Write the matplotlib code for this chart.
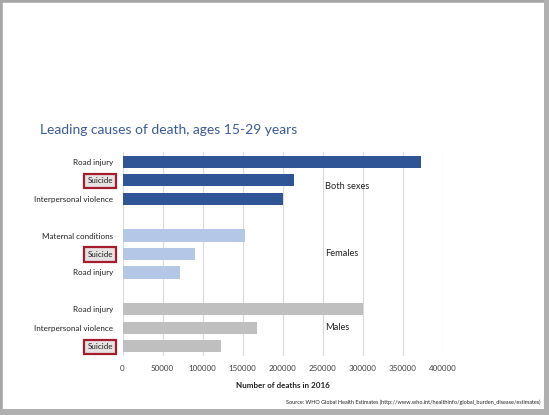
import matplotlib
matplotlib.use("Agg")
import matplotlib.pyplot as plt
from matplotlib.patches import Rectangle

plt.rcParams['font.family'] = ['Lato', 'DejaVu Sans']

# Data
groups = ["Both sexes", "Females", "Males"]
both_causes = ["Road injury", "Suicide", "Interpersonal violence"]
both_values = [373000, 214000, 200000]
female_causes = ["Maternal conditions", "Suicide", "Road injury"]
female_values = [152500, 91000, 72000]
male_causes = ["Road injury", "Interpersonal violence", "Suicide"]
male_values = [301000, 168000, 123000]
xticks = [0, 50000, 100000, 150000, 200000, 250000, 300000, 350000, 400000]

colors = ["#2F5597", "#B4C7E7", "#BFBFBF"]

fig = plt.figure(figsize=(5.49, 4.15), dpi=100)
fig.patch.set_facecolor("white")

ax = fig.add_axes([122.5/549, 1-355.5/415, 320/549, 203/415])

all_causes = [both_causes, female_causes, male_causes]
all_values = [both_values, female_values, male_values]
ylabels = []
ypos = []
for g, (causes, vals) in enumerate(zip(all_causes, all_values)):
    pos = [g*4 + i for i in range(len(causes))]
    ax.barh(pos, vals, height=0.66, color=colors[g], zorder=3)
    ypos += pos
    ylabels += causes

ax.set_ylim(10.5, -0.5)
ax.set_xlim(0, 400000)
ax.set_xticks(xticks)
ax.set_xticklabels([str(t) for t in xticks], fontsize=5.8, color="#404040")
ax.set_yticks(ypos)
ax.set_yticklabels(ylabels, fontsize=5.8, color="#202020")
ax.tick_params(length=0)
ax.tick_params(axis='y', pad=7)
ax.tick_params(axis='x', pad=7)
for s in ax.spines.values():
    s.set_visible(False)
ax.grid(axis='x', color="#D9D9D9", linewidth=0.8, zorder=0)
ax.set_xlabel("Number of deaths in 2016", fontsize=5.8, fontweight="bold",
              color="#202020", labelpad=7)

# Highlight "Suicide" labels
for lab in ax.get_yticklabels():
    if lab.get_text() == "Suicide":
        lab.set_bbox(dict(boxstyle="square,pad=0.45", facecolor="#E6E2E2",
                          edgecolor="#A51C2C", linewidth=1.6))

# Group labels
group_rows = [1.35, 5, 9]
for g, name in enumerate(groups):
    ax.text(253000, group_rows[g], name, fontsize=6.7, color="#202020",
            va="center", ha="left")

# Title
fig.text(40/549, 1-130/415, "Leading causes of death, ages 15-29 years",
         fontsize=10, color="#3B5A9A", ha="left", va="center")

# Source
fig.text(540/549, 1-402/415,
         "Source: WHO Global Health Estimates (http://www.who.int/healthinfo/global_burden_disease/estimates)",
         fontsize=4.0, color="#202020", ha="right", va="center")

# Slide frame
fig.patches.append(Rectangle((0, 0), 1, 1, transform=fig.transFigure,
                             fill=False, edgecolor="#A6A6A6", linewidth=4))
fig.patches.append(Rectangle((544/549, 0), 5/549, 1, transform=fig.transFigure,
                             facecolor="#B0B0B0", edgecolor="none"))
fig.patches.append(Rectangle((0, 0), 1, 6/415, transform=fig.transFigure,
                             facecolor="#B0B0B0", edgecolor="none"))

fig.savefig("out.png", dpi=100)
